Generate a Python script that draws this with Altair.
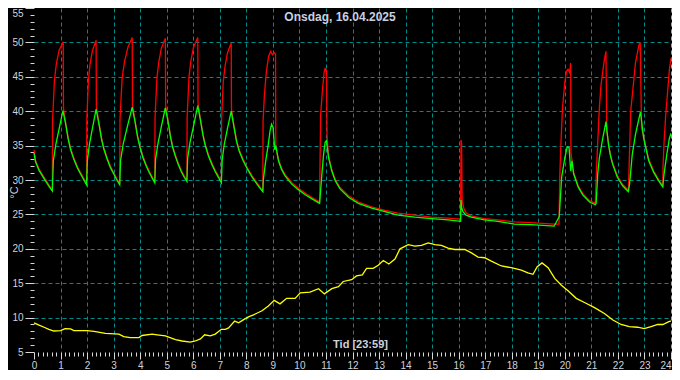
import altair as alt
import pandas as pd

# ---------------- data (hours, °C) ----------------
# Outdoor temperature (yellow)
yellow_t = [0.00, 0.19, 0.38, 0.56, 0.75, 1.00, 1.17, 1.38, 1.50, 2.00, 2.26, 2.69, 3.20, 3.38,
            3.63, 3.95, 4.07, 4.45, 4.64, 4.95, 5.33, 5.58, 5.89, 6.08, 6.27, 6.43, 6.64, 6.83,
            7.06, 7.21, 7.33, 7.56, 7.71, 7.90, 8.08, 8.27, 8.59, 8.83, 9.05, 9.27, 9.52, 9.84,
            10.03, 10.40, 10.72, 10.94, 11.22, 11.47, 11.65, 11.97, 12.15, 12.37, 12.53, 12.78,
            12.97, 13.16, 13.37, 13.60, 13.79, 14.10, 14.35, 14.60, 14.85, 15.10, 15.35, 15.60,
            15.85, 16.23, 16.48, 16.73, 16.98, 17.23, 17.61, 17.98, 18.36, 18.61, 18.80, 18.96,
            19.14, 19.37, 19.62, 19.87, 20.12, 20.43, 20.74, 21.12, 21.49, 21.81, 22.12, 22.43,
            22.74, 22.99, 23.25, 23.50, 23.69, 23.94, 24.00]
yellow_v = [9.24, 8.9, 8.6, 8.3, 8.05, 8.1, 8.4, 8.35, 8.1, 8.1, 8.0, 7.7, 7.6, 7.25,
            7.1, 7.1, 7.4, 7.6, 7.5, 7.35, 6.8, 6.6, 6.45, 6.6, 6.9, 7.5, 7.35, 7.6,
            8.3, 8.3, 8.5, 9.5, 9.25, 9.7, 10.1, 10.4, 11.0, 11.7, 12.5, 12.0, 12.8, 12.8,
            13.6, 13.7, 14.2, 13.45, 14.2, 14.5, 15.25, 15.5, 16.05, 16.2, 17.15, 17.15,
            17.6, 18.3, 17.8, 18.5, 20.0, 20.6, 20.4, 20.5, 20.85, 20.6, 20.5, 20.1,
            19.9, 19.9, 19.4, 18.8, 18.7, 18.2, 17.5, 17.25, 16.9, 16.5, 16.3, 17.4,
            17.95, 17.25, 15.7, 14.7, 13.9, 12.8, 12.2, 11.45, 10.6, 9.65, 9.0, 8.7,
            8.6, 8.4, 8.7, 9.0, 9.0, 9.45, 9.5]

# Supply temperature (red)
red_t = [0.00, 0.06, 0.19, 0.38, 0.56, 0.69,
         0.70, 0.77, 0.84, 0.94, 1.10, 1.11, 1.19, 1.29, 1.38, 1.50, 1.63, 1.75, 1.88, 1.98,
         1.99, 2.05, 2.11, 2.20, 2.34, 2.35, 2.44, 2.54, 2.63, 2.75, 2.88, 3.00, 3.12, 3.23,
         3.24, 3.32, 3.41, 3.54, 3.70, 3.71, 3.80, 3.90, 3.99, 4.10, 4.22, 4.34, 4.45, 4.55,
         4.56, 4.63, 4.70, 4.80, 4.95, 4.96, 5.05, 5.14, 5.22, 5.33, 5.44, 5.55, 5.66, 5.76,
         5.77, 5.84, 5.91, 6.01, 6.17, 6.18, 6.27, 6.37, 6.46, 6.58, 6.71, 6.83, 6.96, 7.06,
         7.07, 7.13, 7.20, 7.29, 7.43, 7.44, 7.53, 7.63, 7.73, 7.88, 8.05, 8.22, 8.42, 8.62,
         8.63, 8.68, 8.75, 8.84, 8.92, 8.98, 9.04, 9.10, 9.11, 9.21, 9.33, 9.46, 9.71, 9.96,
         10.21, 10.46, 10.76,
         10.77, 10.80, 10.87, 10.93, 10.97, 11.00, 11.02, 11.04, 11.10, 11.22, 11.35, 11.53,
         11.85, 12.22, 12.72, 13.22, 13.72, 14.35, 14.97, 15.60, 16.07,
         16.09, 16.11, 16.13, 16.20, 16.28, 16.47, 16.97, 17.47, 18.10, 18.72, 19.60, 19.78,
         19.81, 19.85, 19.91, 20.00, 20.06, 20.12, 20.18, 20.22, 20.23, 20.33, 20.50, 20.68,
         20.93, 21.15,
         21.17, 21.24, 21.30, 21.36, 21.43, 21.49, 21.55, 21.58, 21.65, 21.72, 21.80, 21.98,
         22.17, 22.39,
         22.40, 22.48, 22.60, 22.66, 22.79, 22.84, 22.89, 22.97, 23.16, 23.35, 23.53, 23.69,
         23.70, 23.74, 23.80, 23.88, 23.94, 24.00]
red_v = [34.4, 32.8, 31.6, 30.4, 29.3, 28.5,
         38.7, 44.5, 46.8, 48.8, 50.1, 40.4, 38.4, 36.1, 34.6, 33.2, 32.0, 31.1, 30.2, 29.4,
         38.8, 44.5, 46.8, 48.8, 50.3, 40.6, 38.5, 36.2, 34.7, 33.3, 32.0, 31.1, 30.2, 29.4,
         38.8, 44.8, 47.2, 49.3, 50.7, 40.9, 38.8, 36.5, 35.0, 33.5, 32.3, 31.3, 30.5, 29.7,
         39.0, 44.8, 47.1, 49.2, 50.6, 40.8, 38.7, 36.5, 35.0, 33.6, 32.4, 31.4, 30.6, 29.9,
         39.2, 45.0, 47.3, 49.3, 50.7, 41.1, 38.9, 36.6, 35.1, 33.6, 32.4, 31.4, 30.5, 29.7,
         38.9, 44.3, 46.6, 48.5, 49.9, 40.3, 38.0, 35.8, 34.4, 33.0, 31.7, 30.6, 29.5, 28.4,
         38.5, 42.3, 45.6, 48.0, 48.7, 48.2, 48.5, 48.3, 34.8, 33.0, 31.7, 30.8, 29.6, 28.8,
         28.1, 27.5, 26.8,
         30.5, 39.5, 43.2, 45.6, 46.3, 45.8, 46.1, 36.5, 33.4, 31.5, 30.1, 28.9,
         27.7, 26.8, 26.1, 25.6, 25.2, 24.9, 24.6, 24.45, 24.3,
         35.8, 35.3, 27.0, 25.8, 25.2, 24.8, 24.4, 24.2, 23.9, 23.8, 23.6, 23.6,
         30.6, 35.1, 40.4, 44.2, 45.8, 46.1, 45.6, 47.0, 33.9, 31.1, 29.2, 28.0,
         27.0, 26.6,
         29.4, 35.6, 40.4, 43.7, 45.8, 47.5, 48.7, 37.2, 35.2, 33.7, 32.5, 30.6,
         29.4, 28.5,
         29.0, 39.9, 44.6, 47.0, 49.6, 50.0, 37.5, 36.3, 33.0, 31.3, 30.1, 29.2,
         32.0, 35.6, 39.4, 43.2, 46.1, 47.7]

# Return temperature (green)
green_t = [0.00, 0.06, 0.19, 0.38, 0.56, 0.69,
           0.73, 0.82, 0.95, 1.09, 1.19, 1.29, 1.38, 1.50, 1.63, 1.75, 1.88, 1.98,
           2.01, 2.09, 2.21, 2.34, 2.44, 2.54, 2.63, 2.75, 2.88, 3.00, 3.12, 3.23,
           3.26, 3.36, 3.52, 3.70, 3.80, 3.90, 3.99, 4.10, 4.22, 4.34, 4.45, 4.55,
           4.58, 4.67, 4.80, 4.95, 5.05, 5.14, 5.22, 5.33, 5.44, 5.55, 5.66, 5.76,
           5.79, 5.88, 6.02, 6.17, 6.27, 6.37, 6.46, 6.58, 6.71, 6.83, 6.96, 7.06,
           7.09, 7.17, 7.29, 7.43, 7.53, 7.63, 7.73, 7.88, 8.05, 8.22, 8.42, 8.62,
           8.64, 8.72, 8.82, 8.90, 8.95, 9.01, 9.07, 9.11, 9.21, 9.33, 9.46, 9.71, 9.96,
           10.21, 10.46, 10.76,
           10.80, 10.85, 10.91, 10.97, 11.02, 11.10, 11.22, 11.35, 11.53, 11.85, 12.22,
           12.72, 13.22, 13.72, 14.35, 14.97, 15.60, 16.07,
           16.09, 16.11, 16.16, 16.28, 16.47, 16.97, 17.47, 18.10, 18.72, 19.60, 19.79,
           19.88, 20.00, 20.09, 20.16, 20.22, 20.27, 20.33, 20.50, 20.68, 20.93, 21.15,
           21.18, 21.24, 21.30, 21.43, 21.55, 21.59, 21.65, 21.72, 21.80, 21.98, 22.17, 22.39,
           22.44, 22.54, 22.66, 22.79, 22.85, 22.97, 23.16, 23.35, 23.53, 23.69,
           23.74, 23.84, 23.94, 24.00]
green_v = [33.9, 32.6, 31.4, 30.2, 29.1, 28.4,
           32.8, 35.1, 37.5, 40.1, 38.2, 35.9, 34.4, 33.0, 31.8, 30.9, 30.0, 29.3,
           32.8, 35.2, 37.7, 40.3, 38.3, 36.0, 34.5, 33.1, 31.8, 30.9, 30.0, 29.3,
           32.8, 35.2, 37.8, 40.6, 38.6, 36.3, 34.8, 33.3, 32.1, 31.1, 30.3, 29.6,
           33.0, 35.3, 37.8, 40.5, 38.5, 36.3, 34.8, 33.4, 32.2, 31.2, 30.4, 29.8,
           33.2, 35.5, 38.0, 40.8, 38.7, 36.4, 34.9, 33.4, 32.2, 31.2, 30.3, 29.6,
           32.9, 35.2, 37.5, 40.0, 37.8, 35.6, 34.2, 32.8, 31.5, 30.4, 29.3, 28.3,
           30.0, 32.5, 35.0, 37.3, 38.1, 37.6, 34.4, 35.0, 32.8, 31.5, 30.6, 29.4, 28.6,
           27.9, 27.3, 26.6,
           28.5, 31.0, 33.7, 35.5, 35.7, 33.2, 31.3, 29.9, 28.7, 27.5, 26.6,
           25.9, 25.4, 24.9, 24.6, 24.4, 24.2, 24.0,
           27.1, 26.0, 25.4, 24.9, 24.6, 24.2, 24.0, 23.6, 23.5, 23.3, 24.7,
           30.4, 33.2, 34.8, 34.7, 31.3, 32.8, 30.9, 29.0, 27.8, 26.8, 26.4,
           26.6, 30.9, 33.2, 36.1, 38.5, 37.0, 35.0, 33.5, 32.3, 30.4, 29.2, 28.3,
           29.4, 33.7, 36.6, 38.9, 39.9, 36.1, 32.8, 31.1, 29.9, 29.0,
           30.9, 33.7, 36.1, 36.8]

hour_ticks = list(range(0, 25))
minor_x_ticks = [h + k / 6 for h in range(24) for k in range(1, 6)]
major_y_ticks = list(range(5, 56, 5))
minor_y_ticks = [v for v in range(6, 55) if v % 5 != 0]
title_text = "Onsdag, 16.04.2025"

# ---------------- chart ----------------
W, H = 637, 344
FONT = "Liberation Sans"
TICK = "#d8d8d8"
LABEL = "#cfd3da"
GRID = "#008b8b"

xs = alt.Scale(domain=[0, 24], nice=False, zero=False)
ys = alt.Scale(domain=[5, 55], nice=False, zero=False)

df_red = pd.DataFrame({"t": red_t, "v": red_v})
df_green = pd.DataFrame({"t": green_t, "v": green_v})
df_yel = pd.DataFrame({"t": yellow_t, "v": yellow_v})

x_major = alt.Axis(
    values=hour_ticks, orient="bottom", domain=False, format="d",
    tickSize=7, tickColor=TICK, tickWidth=1,
    labelColor=LABEL, labelFont=FONT, labelFontSize=10, labelPadding=1, labelFlush=False,
    labelAlign={"condition": {"test": "datum.value == 24", "value": "right"}, "value": "center"},
    grid=True,
    gridColor={"condition": {"test": "datum.value == 24", "value": "#00e5ee"}, "value": GRID},
    gridOpacity={"condition": {"test": "datum.value == 0", "value": 0}, "value": 1},
    gridDash=[4, 3], gridWidth=1,
    title="Tid [23:59]", titleX=326, titleY=-8, titleAlign="center", titleBaseline="middle",
    titleColor=LABEL, titleFont=FONT, titleFontSize=11, titleFontWeight="bold",
)
y_major = alt.Axis(
    values=major_y_ticks, orient="left", domain=False, format="d",
    tickSize=9, tickColor=TICK, tickWidth=1,
    labelColor=LABEL, labelFont=FONT, labelFontSize=10, labelPadding=2,
    labelBaseline={"condition": {"test": "datum.value == 55", "value": "top"}, "value": "middle"},
    grid=True, gridColor=GRID,
    gridOpacity={"condition": {"test": "datum.value == 5 || datum.value == 55", "value": 0}, "value": 1},
    gridDash=[4, 3], gridWidth=1,
    title="°C", titleX=-20, titleY=184, titleAngle=270, titleAlign="center",
    titleBaseline="middle", titleColor=LABEL, titleFont=FONT, titleFontSize=11,
    titleFontWeight="normal",
)
x_minor = alt.Axis(values=minor_x_ticks, orient="bottom", domain=False, grid=False,
                   labels=False, tickSize=4, tickColor=TICK, tickWidth=1, title=None)
y_minor = alt.Axis(values=minor_y_ticks, orient="left", domain=False, grid=False,
                   labels=False, tickSize=4, tickColor=TICK, tickWidth=1, title=None)

red = alt.Chart(df_red).mark_line(color="#ff0000", strokeWidth=1.3).encode(
    x=alt.X("t:Q", scale=xs, axis=x_major),
    y=alt.Y("v:Q", scale=ys, axis=y_major),
)
green = alt.Chart(df_green).mark_line(color="#00ff00", strokeWidth=1.3).encode(
    x=alt.X("t:Q", scale=xs, axis=x_minor),
    y=alt.Y("v:Q", scale=ys, axis=y_minor),
)
yellow = alt.Chart(df_yel).mark_line(color="#ffff00", strokeWidth=1.3).encode(
    x=alt.X("t:Q", scale=xs, axis=None),
    y=alt.Y("v:Q", scale=ys, axis=None),
)
title = alt.Chart(pd.DataFrame({"txt": [title_text]})).mark_text(
    font=FONT, fontSize=12, fontWeight="bold", color="#c8d0e0",
    align="center", baseline="middle",
).encode(x=alt.value(306), y=alt.value(9), text="txt:N")

chart = (
    alt.layer(red, green, yellow, title)
    .resolve_axis(x="independent", y="independent")
    .properties(
        width=W, height=H,
        autosize=alt.AutoSizeParams(type="none"),
        padding={"left": 26, "top": 0, "right": 1, "bottom": 18},
        background="#000000",
    )
    .configure_view(strokeOpacity=0)
)

chart.save("out.html", embed_options={"renderer": "svg", "actions": False})
